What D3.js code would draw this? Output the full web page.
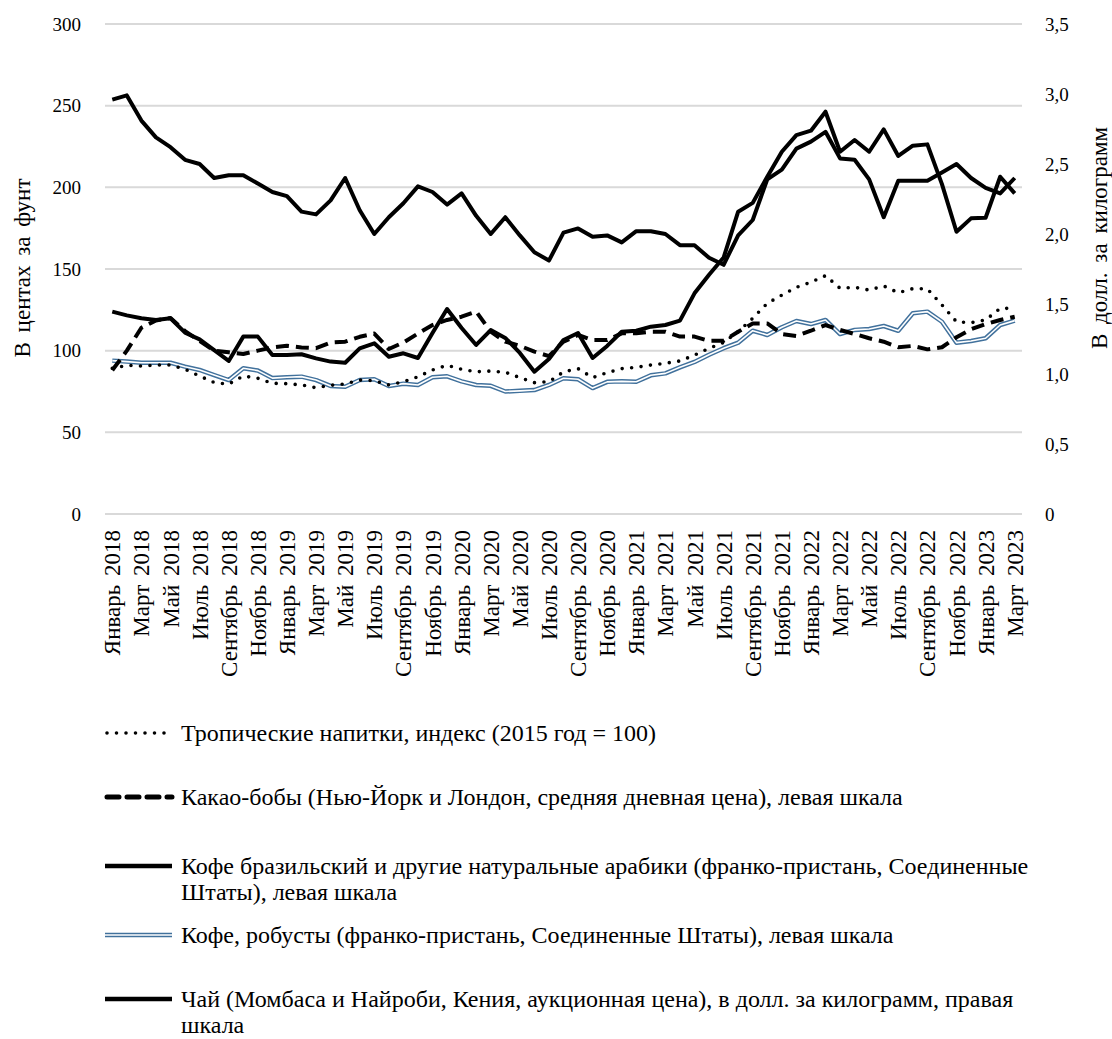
<!DOCTYPE html>
<html><head><meta charset="utf-8">
<script src="https://cdn.jsdelivr.net/npm/d3@7"></script>
<style>body{margin:0;background:#fff;}</style></head>
<body><svg id="c" width="1112" height="1039"></svg>
<script>
const monthNames = ["Январь","Февраль","Март","Апрель","Май","Июнь","Июль","Август","Сентябрь","Октябрь","Ноябрь","Декабрь"];
const years = [2018,2019,2020,2021,2022,2023];
const lastMonthCount = 3; // up to March 2023
const categories = [];
years.forEach(y => monthNames.forEach((m, k) => { if (y < 2023 || k < lastMonthCount) categories.push(m + " " + y); }));

const leftTicks = [0,50,100,150,200,250,300];
const rightTicks = [0,0.5,1,1.5,2,2.5,3,3.5];

const tropical = [89.2,91,90.6,91.2,91.2,88.6,84.5,80.5,79.5,84.5,83.1,80,79.8,79,77.3,78.8,79.6,82,81.6,79,81,84,88.2,91,88.6,87.1,87.5,86.8,83.5,80.4,81,87,89,83.5,86.5,89,89.8,91.2,92.3,93.7,97.3,101.4,105,111.6,119.8,129,134,138.8,141.9,145.9,138.2,138.8,137.1,139.6,135.5,138,137.8,128,117.7,117.1,118.8,125.9,125.9];
const cocoa = [88,100,114,118.5,120,112,106,100,99,98,100,102,103,102,101.5,105,105.5,108.5,110.5,101,105,110.5,115.7,118.8,120.8,124,111.6,105.5,103,99.4,96.7,105.5,109.6,106.5,106.5,110.6,110.6,111.6,111.6,108.6,108.6,106,106.1,111.6,116.7,116.7,110.2,109,112.2,115.7,112.7,110.2,107.6,105.5,102.1,102.9,100.8,102.1,108.2,113.1,116.3,118.8,120.8];
const arabica = [123.9,121.6,119.8,118.8,119.8,111,106.9,100.4,93.7,108.6,108.6,97.3,97.3,97.8,95.3,93.3,92.6,101.4,104.5,96.3,98.4,95.5,110.8,125.5,113.9,103.5,112.6,107.8,98.6,87.1,94.9,106.5,110.8,95.5,102.9,111.6,112.2,114.7,115.7,118.4,135.1,146.5,157,185.1,190.5,206.5,221.8,232,234.7,246.3,221.8,229,221.8,235.5,219.2,225.5,226.3,202,172.8,181,181.4,206.5,196.3];
const robusta = [93.9,93.3,92.6,92.6,92.6,90.2,88.2,85.1,82,89.2,87.8,83.2,83.7,84.1,82,78.4,77.9,82,82.5,78.4,79.8,79,83.7,84.3,81.2,79,78.5,75,75.4,75.9,79,83.1,82.5,77.1,80.9,81.2,81,84.9,86.1,89.8,93.1,97.5,101.5,104.9,112.2,109.6,114.3,118.2,116.3,118.8,110.2,112.7,113.3,115.1,112.2,122.9,123.9,117.7,104.9,105.9,107.6,115.7,118.4];
const tea = [2.96,2.99,2.81,2.69,2.62,2.53,2.50,2.40,2.42,2.42,2.36,2.30,2.27,2.16,2.14,2.24,2.40,2.17,2.00,2.12,2.22,2.34,2.30,2.21,2.29,2.13,2.00,2.12,1.99,1.87,1.81,2.01,2.04,1.98,1.99,1.94,2.02,2.02,2.00,1.92,1.92,1.83,1.78,1.99,2.10,2.39,2.46,2.61,2.66,2.73,2.54,2.53,2.39,2.12,2.38,2.38,2.38,2.44,2.50,2.40,2.33,2.29,2.40];

const legendLabels = [
  ["Тропические напитки, индекс (2015 год = 100)"],
  ["Какао-бобы (Нью-Йорк и Лондон, средняя дневная цена),  левая шкала"],
  ["Кофе бразильский и другие натуральные арабики (франко-пристань, Соединенные","Штаты),  левая шкала"],
  ["Кофе, робусты (франко-пристань, Соединенные Штаты),  левая шкала"],
  ["Чай (Момбаса и Найроби, Кения, аукционная цена), в долл. за килограмм, правая","шкала"]
];
const leftTitle = "В центах за фунт";
const rightTitle = "В долл. за килограмм";

const FONT = "Liberation Serif";
const svg = d3.select("#c");
const x = d3.scaleBand().domain(categories).range([105, 1022]).paddingInner(0).paddingOuter(0);
const yL = d3.scaleLinear().domain([0, 300]).range([514, 24]);
const yR = d3.scaleLinear().domain([0, 3.5]).range([514, 24]);
const cx = d => x(d) + x.bandwidth() / 2;

// gridlines
svg.append("g").selectAll("line").data(leftTicks).join("line")
  .attr("x1", 105).attr("x2", 1022)
  .attr("y1", d => yL(d)).attr("y2", d => yL(d))
  .attr("stroke", "#d9d9d9").attr("stroke-width", 2);

// left axis
const gl = svg.append("g").attr("transform", "translate(81,0)")
  .call(d3.axisLeft(yL).tickValues(leftTicks).tickSize(0).tickPadding(0).tickFormat(d3.format("d")));
gl.select(".domain").remove();
gl.attr("font-family", FONT).attr("font-size", 19);
gl.selectAll("text").attr("font-family", FONT).attr("font-size", 19).attr("fill", "#000");

// right axis
const fmtR = d => d === 0 ? "0" : d3.format(".1f")(d).replace(".", ",");
const gr = svg.append("g").attr("transform", "translate(1045,0)")
  .call(d3.axisRight(yR).tickValues(rightTicks).tickSize(0).tickPadding(0).tickFormat(fmtR));
gr.select(".domain").remove();
gr.attr("font-family", FONT).attr("font-size", 19);
gr.selectAll("text").attr("font-family", FONT).attr("font-size", 19).attr("fill", "#000");

// x axis labels
const gx = svg.append("g").attr("transform", "translate(0,530)")
  .call(d3.axisBottom(x).tickValues(categories.filter((d, i) => i % 2 === 0)).tickSize(0).tickPadding(0));
gx.select(".domain").remove();
gx.attr("font-family", FONT).attr("font-size", 23);
gx.selectAll("text").attr("font-family", FONT).attr("font-size", 23).attr("fill", "#000")
  .attr("word-spacing", 3)
  .attr("text-anchor", "end").attr("transform", "rotate(-90)").attr("x", 0).attr("y", 0).attr("dy", "0.35em");

// titles
svg.append("text").attr("transform", "translate(22,268) rotate(-90)").attr("text-anchor", "middle")
  .attr("dy", "0.35em").attr("font-size", 23).attr("word-spacing", 4).attr("font-family", FONT).text(leftTitle);
svg.append("text").attr("transform", "translate(1099,238) rotate(-90)").attr("text-anchor", "middle")
  .attr("dy", "0.35em").attr("font-size", 23).attr("word-spacing", 4).attr("font-family", FONT).text(rightTitle);

const lineL = d3.line().x((d, i) => cx(categories[i])).y(d => yL(d));
const lineR = d3.line().x((d, i) => cx(categories[i])).y(d => yR(d));

const plot = svg.append("g").attr("fill", "none").attr("stroke-linejoin", "round");
plot.append("path").datum(robusta).attr("d", lineL).attr("stroke", "#41719c").attr("stroke-width", 4.5);
plot.append("path").datum(robusta).attr("d", lineL).attr("stroke", "#ffffff").attr("stroke-width", 1.6);
plot.append("path").datum(tropical).attr("d", lineL).attr("stroke", "#000").attr("stroke-width", 3.6)
  .attr("stroke-linecap", "round").attr("stroke-dasharray", "0 9.5");
plot.append("path").datum(cocoa).attr("d", lineL).attr("stroke", "#000").attr("stroke-width", 4)
  .attr("stroke-dasharray", "13 7");
plot.append("path").datum(arabica).attr("d", lineL).attr("stroke", "#000").attr("stroke-width", 4);
plot.append("path").datum(tea).attr("d", lineR).attr("stroke", "#000").attr("stroke-width", 4);

// legend
const legY = [733, 797, 866, 935, 999];
const lg = svg.append("g");
const sx1 = 105, sx2 = 172;
lg.append("line").attr("x1", sx1 + 2).attr("x2", sx2).attr("y1", legY[0]).attr("y2", legY[0])
  .attr("stroke", "#000").attr("stroke-width", 3.6).attr("stroke-linecap", "round").attr("stroke-dasharray", "0 9.5");
lg.append("line").attr("x1", sx1 + 2).attr("x2", sx2).attr("y1", legY[1]).attr("y2", legY[1])
  .attr("stroke", "#000").attr("stroke-width", 5).attr("stroke-linecap", "round").attr("stroke-dasharray", "12 8");
lg.append("line").attr("x1", sx1).attr("x2", sx2).attr("y1", legY[2]).attr("y2", legY[2])
  .attr("stroke", "#000").attr("stroke-width", 4.5);
lg.append("line").attr("x1", sx1).attr("x2", sx2).attr("y1", legY[3]).attr("y2", legY[3])
  .attr("stroke", "#41719c").attr("stroke-width", 4.5);
lg.append("line").attr("x1", sx1).attr("x2", sx2).attr("y1", legY[3]).attr("y2", legY[3])
  .attr("stroke", "#fff").attr("stroke-width", 1.6);
lg.append("line").attr("x1", sx1).attr("x2", sx2).attr("y1", legY[4]).attr("y2", legY[4])
  .attr("stroke", "#000").attr("stroke-width", 4.5);

legendLabels.forEach((lines, k) => {
  const t = lg.append("text").attr("x", 181).attr("y", legY[k]).attr("font-size", 24)
    .attr("font-family", FONT).attr("fill", "#000");
  lines.forEach((s, j) => t.append("tspan").attr("x", 181).attr("dy", j === 0 ? "0.35em" : "1.08em").text(s));
});
</script></body></html>
